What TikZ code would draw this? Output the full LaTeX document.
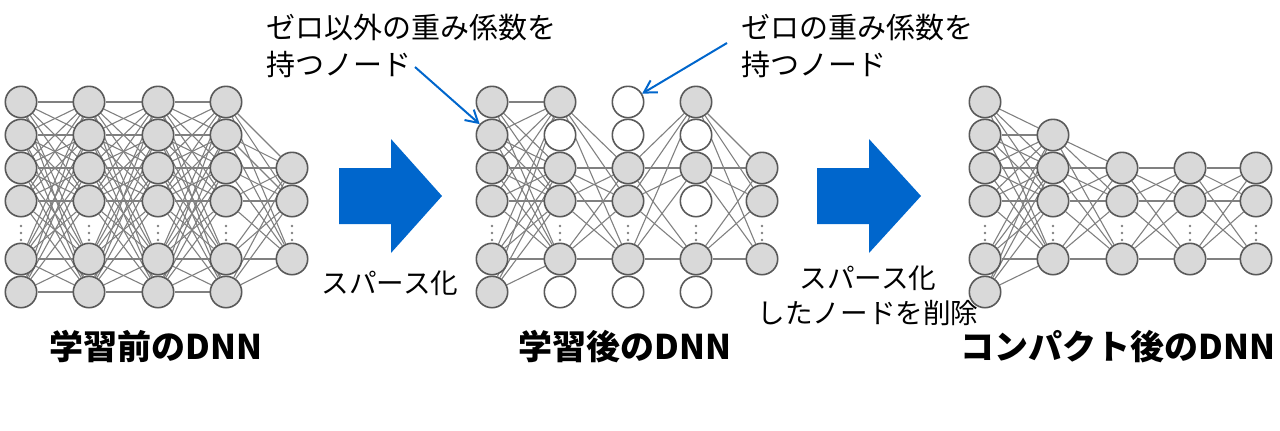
\documentclass[tikz,border=0pt]{standalone}
\usepackage{fontspec}
\newfontfamily\jp{Noto Sans CJK JP}
\usepackage{tikz}
\usetikzlibrary{arrows.meta,backgrounds}

\definecolor{nodefill}{RGB}{217,217,217}
\definecolor{nodeline}{RGB}{89,89,89}
\definecolor{linkgray}{RGB}{128,128,128}
\definecolor{arrowblue}{RGB}{0,102,204}

\begin{document}
\begin{tikzpicture}[x=0.5pt, y=-0.5pt,
	nnode/.style={circle, draw=nodeline, fill=nodefill, line width=0.8pt, minimum size=15.7pt, inner sep=0pt},
	zeronode/.style={nnode, fill=white},
	link/.style={draw=linkgray, line width=0.55pt},
	blockarrow/.style={fill=arrowblue, draw=none},
	callout/.style={-{Straight Barb[length=6pt, width=7pt]}, draw=arrowblue, line width=1pt},
	note/.style={font=\jp\fontsize{14.5}{18.5}\selectfont, align=left, inner sep=0pt},
	steplabel/.style={font=\jp\fontsize{13.8}{17.5}\selectfont, align=center, inner sep=0pt},
	title/.style={font=\jp\bfseries\fontsize{17}{20}\selectfont, inner sep=0pt}]
	\useasboundingbox (0,0) rectangle (1280,430);

	% before training
	\foreach \c/\x in {1/21,2/89,3/158,4/226}
		\foreach \r/\y in {1/102,2/135,3/168,4/201,6/259,7/292}
			\node[nnode] (a-\c-\r) at (\x,\y) {};
	\foreach \r/\y in {3/168,4/201,6/259}
		\node[nnode] (a-5-\r) at (292,\y) {};
	\begin{scope}[on background layer]
	\foreach \c [evaluate=\c as \n using int(\c+1)] in {1,2,3}
		\foreach \r in {1,2,3,4,6,7}
			\foreach \s in {1,2,3,4,6,7}
				\draw[link] (a-\c-\r) -- (a-\n-\s);
	\foreach \r in {1,2,3,4,6,7}
		\foreach \s in {3,4,6}
			\draw[link] (a-4-\r) -- (a-5-\s);
	\end{scope}
	\foreach \x in {21,89,158,226,292}
		\foreach \y in {226,233,240}
			\fill[linkgray] (\x,\y) circle (1.4);

	% after training
	\foreach \r/\y in {1/102,2/135,3/168,4/201,6/259,7/292}
		\node[nnode] (b-1-\r) at (492,\y) {};
	\foreach \r/\y/\st in {1/102/nnode,2/135/zeronode,3/168/nnode,4/201/nnode,6/259/nnode,7/292/zeronode}
		\node[\st] (b-2-\r) at (560,\y) {};
	\foreach \r/\y/\st in {1/102/zeronode,2/135/zeronode,3/168/nnode,4/201/nnode,6/259/nnode,7/292/zeronode}
		\node[\st] (b-3-\r) at (628,\y) {};
	\foreach \r/\y/\st in {1/102/nnode,2/135/zeronode,3/168/nnode,4/201/zeronode,6/259/nnode,7/292/zeronode}
		\node[\st] (b-4-\r) at (696,\y) {};
	\foreach \r/\y in {3/168,4/201,6/259}
		\node[nnode] (b-5-\r) at (762,\y) {};
	\begin{scope}[on background layer]
	\foreach \r in {1,2,3,4,6,7}
		\foreach \s in {1,3,4,6}
			\draw[link] (b-1-\r) -- (b-2-\s);
	\foreach \r in {1,3,4,6}
		\foreach \s in {3,4,6}
			\draw[link] (b-2-\r) -- (b-3-\s);
	\foreach \r in {3,4,6}
		\foreach \s in {1,3,6}
			\draw[link] (b-3-\r) -- (b-4-\s);
	\foreach \r in {1,3,6}
		\foreach \s in {3,4,6}
			\draw[link] (b-4-\r) -- (b-5-\s);
	\end{scope}
	\foreach \x in {492,560,628,696,762}
		\foreach \y in {226,233,240}
			\fill[linkgray] (\x,\y) circle (1.4);

	% compact
	\foreach \r/\y in {1/102,2/135,3/168,4/201,6/259,7/292}
		\node[nnode] (c-1-\r) at (985,\y) {};
	\foreach \r/\y in {2/135,3/168,4/201,6/259}
		\node[nnode] (c-2-\r) at (1053,\y) {};
	\foreach \c/\x in {3/1122,4/1190,5/1256}
		\foreach \r/\y in {3/168,4/201,6/259}
			\node[nnode] (c-\c-\r) at (\x,\y) {};
	\begin{scope}[on background layer]
	\foreach \r in {1,2,3,4,6,7}
		\foreach \s in {2,3,4,6}
			\draw[link] (c-1-\r) -- (c-2-\s);
	\foreach \r in {2,3,4,6}
		\foreach \s in {3,4,6}
			\draw[link] (c-2-\r) -- (c-3-\s);
	\foreach \c [evaluate=\c as \n using int(\c+1)] in {3,4}
		\foreach \r in {3,4,6}
			\foreach \s in {3,4,6}
				\draw[link] (c-\c-\r) -- (c-\n-\s);
	\end{scope}
	\foreach \x in {985,1053,1122,1190,1256}
		\foreach \y in {226,233,240}
			\fill[linkgray] (\x,\y) circle (1.4);

	% block arrows
	\fill[blockarrow] (339,168) -- (391,168) -- (391,139) -- (442,196) -- (391,253) -- (391,224) -- (339,224) -- cycle;
	\fill[blockarrow] (817,168) -- (869,168) -- (869,139) -- (921,196) -- (869,253) -- (869,224) -- (817,224) -- cycle;
	\node[steplabel] (sparse) at (390,283) {スパース化};
	\node[steplabel] (prune) at (868,296) {スパース化\\したノードを削除};

	% callouts
	\node[note, anchor=west] (nonzero) at (266,46) {ゼロ以外の重み係数を\\持つノード};
	\node[note, anchor=west] (zero) at (741,46) {ゼロの重み係数を\\持つノード};
	\coordinate (nonzero-tail) at (415,67);
	\coordinate (zero-tail) at (727,43);
	\draw[callout] (nonzero-tail) -- (b-1-2);
	\draw[callout] (zero-tail) -- (b-3-1);

	% titles
	\node[title] (before) at (156,347) {学習前のDNN};
	\node[title] (after) at (625,347) {学習後のDNN};
	\node[title] (compact) at (1118,347) {コンパクト後のDNN};
\end{tikzpicture}
\end{document}
